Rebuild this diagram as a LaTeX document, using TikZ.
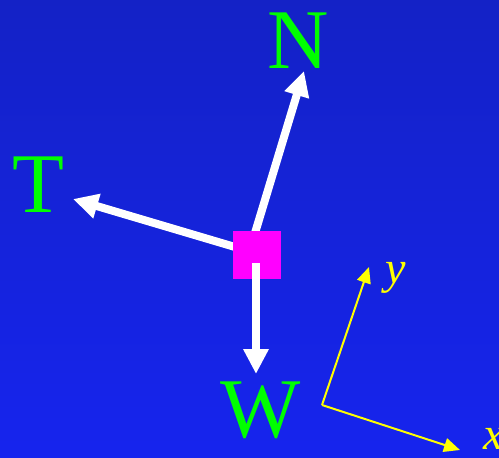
\documentclass[tikz,border=0pt]{standalone}
\usepackage{fontspec}
\setmainfont{Liberation Serif}
\usetikzlibrary{arrows.meta}
\definecolor{bgtop}{RGB}{20,34,198}
\definecolor{bgbot}{RGB}{22,36,238}
\definecolor{fgreen}{RGB}{0,255,0}
\definecolor{fmag}{RGB}{255,0,255}
\definecolor{axyel}{RGB}{255,255,0}
\tikzset{force/.style = {white, line width=8pt,
                         -{Triangle[length=25pt,width=24pt]}}}
\tikzset{axis/.style = {axyel, line width=2pt,
                        -{Triangle[length=16pt,width=14pt]}}}
\tikzset{flabel/.style = {text=fgreen, inner sep=0, anchor=base,
                          font=\fontsize{85}{90}\selectfont}}
\tikzset{alabel/.style = {text=axyel, inner sep=0, anchor=base,
                          font=\fontsize{46}{50}\selectfont\itshape}}
\begin{document}
\begin{tikzpicture}[x=1pt,y=-1pt]
        \shade[top color=bgtop, bottom color=bgbot] (0,0) rectangle (499,458);
        \useasboundingbox (0,0) rectangle (499,458);
        \coordinate (nfoot) at (255,233);
        \coordinate (tfoot) at (235,247);
        \coordinate (wfoot) at (256,263);
        \coordinate (ntip) at (304,71);
        \coordinate (ttip) at (73,199);
        \coordinate (wtip) at (256,374);
        \draw[force] (nfoot) -- (ntip);
        \draw[force] (tfoot) -- (ttip);
        \node[fill=fmag, minimum size=48pt, inner sep=0] (block) at (257,255) {};
        \draw[force] (wfoot) -- (wtip);
        \node[flabel] (N) at (298.5,68) {N};
        \node[flabel] (T) at (38,212) {T};
        \node[flabel] (W) at (260.5,437) {W};
        % axes
        \coordinate (origin) at (322,405);
        \coordinate (ytip) at (369,267);
        \coordinate (xtip) at (460,450);
        \draw[axis] (origin) -- (ytip);
        \draw[axis] (origin) -- (xtip);
        \node[alabel] (y) at (396,283) {y};
        \node[alabel] (x) at (494,449) {x};
\end{tikzpicture}
\end{document}
